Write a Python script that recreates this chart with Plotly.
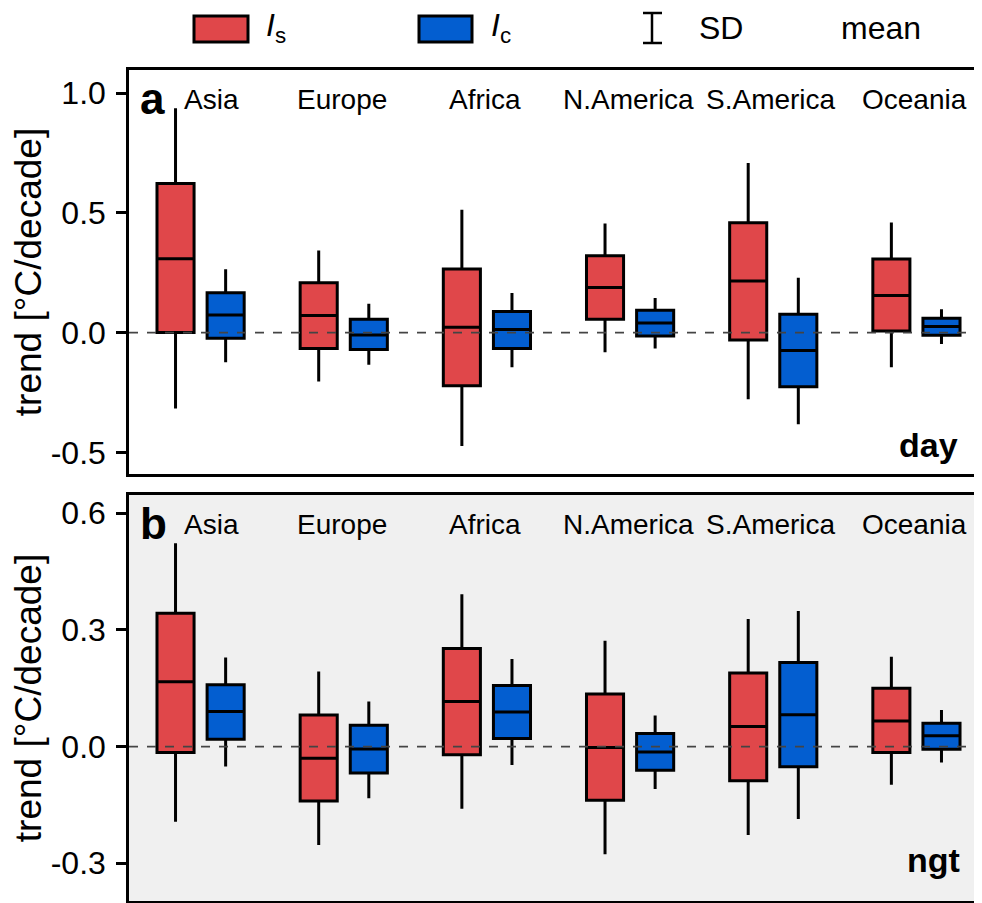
import plotly.graph_objects as go

# ---------------- data ----------------
regions = ["Asia", "Europe", "Africa", "N.America", "S.America", "Oceania"]

# panel a (day): I_s
is_day_mean = [0.308, 0.071, 0.022, 0.188, 0.215, 0.155]
is_day_q1 = [0.000, -0.066, -0.222, 0.056, -0.031, 0.007]
is_day_q3 = [0.622, 0.208, 0.265, 0.321, 0.459, 0.307]
is_day_lo = [-0.317, -0.204, -0.473, -0.082, -0.278, -0.145]
is_day_hi = [0.936, 0.343, 0.513, 0.455, 0.708, 0.460]
# panel a (day): I_c
ic_day_mean = [0.074, -0.010, 0.013, 0.040, -0.075, 0.026]
ic_day_q1 = [-0.024, -0.070, -0.066, -0.014, -0.226, -0.011]
ic_day_q3 = [0.166, 0.056, 0.088, 0.093, 0.077, 0.060]
ic_day_lo = [-0.124, -0.134, -0.145, -0.066, -0.382, -0.047]
ic_day_hi = [0.264, 0.120, 0.165, 0.144, 0.229, 0.098]

# panel b (ngt): I_s
is_ngt_mean = [0.167, -0.030, 0.116, -0.002, 0.052, 0.066]
is_ngt_q1 = [-0.015, -0.140, -0.021, -0.138, -0.088, -0.015]
is_ngt_q3 = [0.343, 0.081, 0.252, 0.135, 0.189, 0.150]
is_ngt_lo = [-0.193, -0.253, -0.160, -0.277, -0.227, -0.098]
is_ngt_hi = [0.523, 0.193, 0.392, 0.272, 0.328, 0.231]
# panel b (ngt): I_c
ic_ngt_mean = [0.090, -0.006, 0.089, -0.014, 0.082, 0.028]
ic_ngt_q1 = [0.019, -0.068, 0.021, -0.061, -0.052, -0.007]
ic_ngt_q3 = [0.159, 0.055, 0.157, 0.034, 0.216, 0.060]
ic_ngt_lo = [-0.051, -0.133, -0.047, -0.109, -0.186, -0.041]
ic_ngt_hi = [0.229, 0.116, 0.225, 0.080, 0.349, 0.094]

yticks_day = [-0.5, 0.0, 0.5, 1.0]
yticks_ngt = [-0.3, 0.0, 0.3, 0.6]

# ---------------- style ----------------
RED = "#E0474A"
BLUE = "#035ED0"
FONT = "Liberation Sans, Arial, sans-serif"
OFF = 8                       # default page body margin
W, H = 982 - OFF, 903 - OFF
ML, MR, MT, MB = 129 - OFF, 0, 70 - OFF, H - (901 - OFF)
PW, PH = W - ML - MR, H - MT - MB


def px(x):  # page pixel -> paper
    return (x - OFF - ML) / PW


def py(y):
    return (H - MB - (y - OFF)) / PH


top_dom = [py(474), 1.0]
bot_dom = [0.0, py(495)]

fig = go.Figure()


def add_boxes(xa, ya, q1, med, q3, lo, hi, color, name):
    fig.add_trace(go.Box(
        x=regions, q1=q1, median=med, q3=q3, lowerfence=lo, upperfence=hi,
        xaxis=xa, yaxis=ya, name=name, offsetgroup=name,
        fillcolor=color, line=dict(color="black", width=3),
        whiskerwidth=0, showlegend=False, boxpoints=False, hoverinfo="skip",
    ))


add_boxes("x", "y", is_day_q1, is_day_mean, is_day_q3, is_day_lo, is_day_hi, RED, "Is")
add_boxes("x", "y", ic_day_q1, ic_day_mean, ic_day_q3, ic_day_lo, ic_day_hi, BLUE, "Ic")
add_boxes("x2", "y2", is_ngt_q1, is_ngt_mean, is_ngt_q3, is_ngt_lo, is_ngt_hi, RED, "Is")
add_boxes("x2", "y2", ic_ngt_q1, ic_ngt_mean, ic_ngt_q3, ic_ngt_lo, ic_ngt_hi, BLUE, "Ic")

xright = -0.5 + (982 - 130) / 143.0
xcommon = dict(type="category", categoryorder="array", categoryarray=regions,
               range=[-0.5, xright], showticklabels=False, ticks="",
               showgrid=False, zeroline=False, showline=True, mirror=True,
               linecolor="black", linewidth=2.5)
ycommon = dict(showgrid=False, zeroline=False, showline=True, mirror=False,
               linecolor="black", linewidth=2.5, ticks="outside", ticklen=10,
               tickwidth=2.5, tickcolor="black", ticklabelstandoff=4,
               tickfont=dict(family=FONT, size=32, color="black"),
               title=dict(text="trend [°C/decade]", standoff=2,
                          font=dict(family=FONT, size=37, color="black")))

fig.update_layout(
    width=W, height=H,
    margin=dict(l=ML, r=MR, t=MT, b=MB),
    paper_bgcolor="white", plot_bgcolor="rgba(0,0,0,0)",
    boxmode="group", boxgap=0.3, boxgroupgap=0.26,
    font=dict(family=FONT, color="black"),
    xaxis=dict(domain=[0, 1], anchor="y", **xcommon),
    xaxis2=dict(domain=[0, 1], anchor="y2", **xcommon),
    yaxis=dict(domain=top_dom, anchor="x", range=[-0.59, 1.096],
               tickvals=yticks_day, ticktext=[f"{v:.1f}" for v in yticks_day], **ycommon),
    yaxis2=dict(domain=bot_dom, anchor="x2", range=[-0.397, 0.647],
                tickvals=yticks_ngt, ticktext=[f"{v:.1f}" for v in yticks_ngt], **ycommon),
)

shapes = []
# grey background of panel b
shapes.append(dict(type="rect", xref="paper", yref="paper", x0=0, x1=1,
                   y0=bot_dom[0], y1=bot_dom[1], fillcolor="#F0F0F0",
                   line=dict(width=0), layer="below"))
# dashed zero lines
for xr, yr in (("x domain", "y"), ("x2 domain", "y2")):
    shapes.append(dict(type="line", xref=xr, yref=yr, x0=0, x1=1, y0=0, y1=0,
                       line=dict(color="#444444", width=1.6, dash="dash"),
                       layer="above"))

# legend symbols (top)
for x0, x1, col in ((194, 248, RED), (419, 472, BLUE)):
    shapes.append(dict(type="rect", xref="paper", yref="paper",
                       x0=px(x0), x1=px(x1), y0=py(42), y1=py(16),
                       fillcolor=col, line=dict(color="black", width=3)))
# SD symbol
shapes.append(dict(type="line", xref="paper", yref="paper", x0=px(652), x1=px(652),
                   y0=py(43), y1=py(13), line=dict(color="black", width=2.5)))
for yy in (13, 43):
    shapes.append(dict(type="line", xref="paper", yref="paper", x0=px(643), x1=px(662),
                       y0=py(yy), y1=py(yy), line=dict(color="black", width=2.5)))
fig.update_layout(shapes=shapes)

ann = []
# legend text
leg_items = [(264, "<i>I</i><sub>s</sub>"), (489, "<i>I</i><sub>c</sub>"),
             (697, "SD"), (839, "mean")]
for x, t in leg_items:
    ann.append(dict(xref="paper", yref="paper", x=px(x), y=py(28), text=t,
                    showarrow=False, xanchor="left", yanchor="middle",
                    font=dict(family=FONT, size=32, color="black")))

# region names
for xa, ya in (("x", "y domain"), ("x2", "y2 domain")):
    for r in regions:
        ann.append(dict(xref=xa, yref=ya, x=r, y=1, yshift=-29,
                        xshift=11 if r == "Asia" else -2,
                        text=r, showarrow=False, xanchor="center", yanchor="middle",
                        font=dict(family=FONT, size=28, color="black")))

# panel letters and labels
ann.append(dict(xref="paper", yref="paper", x=px(138), y=py(99), text="<b>a</b>",
                showarrow=False, xanchor="left", yanchor="middle",
                font=dict(family=FONT, size=44, color="black")))
ann.append(dict(xref="paper", yref="paper", x=px(138), y=py(523), text="<b>b</b>",
                showarrow=False, xanchor="left", yanchor="middle",
                font=dict(family=FONT, size=44, color="black")))
ann.append(dict(xref="paper", yref="paper", x=px(960), y=py(445), text="<b>day</b>",
                showarrow=False, xanchor="right", yanchor="middle",
                font=dict(family=FONT, size=34, color="black")))
ann.append(dict(xref="paper", yref="paper", x=px(962), y=py(860), text="<b>ngt</b>",
                showarrow=False, xanchor="right", yanchor="middle",
                font=dict(family=FONT, size=34, color="black")))
fig.update_layout(annotations=ann)

fig.write_html("out.html")
